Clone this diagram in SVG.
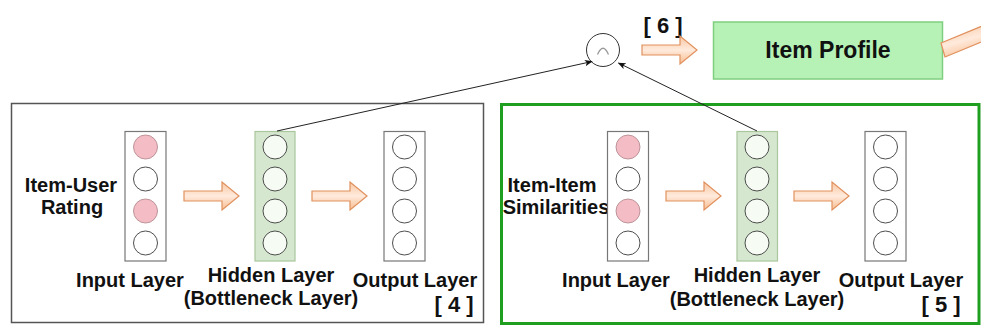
<svg xmlns="http://www.w3.org/2000/svg" width="981" height="327" viewBox="0 0 981 327">
  <style>
    .lbl { font-family: "Liberation Sans", Arial, sans-serif; font-weight: bold; font-size: 20px; fill: #111; text-anchor: middle; }
    .tag { font-size: 22px; }
    .frame { fill: #ffffff; stroke: #555; stroke-width: 1.5; }
    .frame-hi { fill: #ffffff; stroke: #1f9e1f; stroke-width: 3; }
    .layer { fill: #ffffff; stroke: #777; stroke-width: 1.2; }
    .layer-hid { fill: #d5e7cf; stroke: #a9c69c; stroke-width: 1.2; }
    .node { fill: #ffffff; stroke: #3a3a3a; stroke-width: 0.9; }
    .node-hid { fill: #f6fbf4; stroke: #3a3a3a; stroke-width: 0.9; }
    .node-on { fill: #f4bcc5; stroke: #b58c92; stroke-width: 0.9; }
    .flow { fill: url(#peach); stroke: #e0915e; stroke-width: 1.2; }
    .link { stroke: #222; stroke-width: 1; fill: none; marker-end: url(#tip); }
  </style>
  <defs>
    <linearGradient id="peach" x1="0" y1="0" x2="0" y2="1">
      <stop offset="0" stop-color="#f9c7a2"/>
      <stop offset="0.5" stop-color="#ffeadc"/>
      <stop offset="1" stop-color="#f8bd90"/>
    </linearGradient>
    <linearGradient id="peachBar" x1="0" y1="0" x2="0" y2="1" gradientTransform="rotate(-22 0.5 0.5)">
      <stop offset="0" stop-color="#f9c7a2"/>
      <stop offset="0.5" stop-color="#ffeadc"/>
      <stop offset="1" stop-color="#f8bd90"/>
    </linearGradient>
    <marker id="tip" viewBox="0 0 10 10" refX="9" refY="5" markerWidth="8" markerHeight="8" orient="auto" markerUnits="userSpaceOnUse">
      <path d="M0,1 L10,5 L0,9 L2.5,5 Z" fill="#111"/>
    </marker>
    <!-- block arrow, drawn from its left-middle point -->
    <path id="blockArrow" d="M0,-5 H38 V-14 L55,0 L38,14 V5 H0 Z"/>
    <!-- column of four neurons, drawn from the column's centre line -->
    <g id="colPlain">
      <circle class="node" cx="0" cy="147" r="12"/>
      <circle class="node" cx="0" cy="179" r="12"/>
      <circle class="node" cx="0" cy="211" r="12"/>
      <circle class="node" cx="0" cy="243" r="12"/>
    </g>
    <g id="colHidden">
      <circle class="node-hid" cx="0" cy="147" r="12"/>
      <circle class="node-hid" cx="0" cy="179" r="12"/>
      <circle class="node-hid" cx="0" cy="211" r="12"/>
      <circle class="node-hid" cx="0" cy="243" r="12"/>
    </g>
    <g id="colInput">
      <circle class="node-on" cx="0" cy="147" r="12"/>
      <circle class="node" cx="0" cy="179" r="12"/>
      <circle class="node-on" cx="0" cy="211" r="12"/>
      <circle class="node" cx="0" cy="243" r="12"/>
    </g>
  </defs>

  <rect width="981" height="327" fill="#ffffff"/>

  <!-- left autoencoder: item-user ratings -->
  <g id="ae-ratings">
    <rect class="frame" x="11.5" y="103.5" width="472" height="219"/>
    <text class="lbl" x="71" y="192">Item-User</text>
    <text class="lbl" x="72" y="214">Rating</text>
    <g id="ratings-input">
      <rect class="layer" x="125" y="131.5" width="41" height="129.5"/>
      <use href="#colInput" x="145.5"/>
    </g>
    <use href="#blockArrow" class="flow" x="184" y="196"/>
    <g id="ratings-hidden">
      <rect class="layer-hid" x="255" y="131.5" width="40" height="129.5"/>
      <use href="#colHidden" x="275"/>
    </g>
    <use href="#blockArrow" class="flow" x="312" y="196"/>
    <g id="ratings-output">
      <rect class="layer" x="384" y="131.5" width="41" height="129.5"/>
      <use href="#colPlain" x="404.5"/>
    </g>
    <text class="lbl" x="130" y="287">Input Layer</text>
    <text class="lbl" x="271" y="282">Hidden Layer</text>
    <text class="lbl" x="271" y="305">(Bottleneck Layer)</text>
    <text class="lbl" x="415" y="287">Output Layer</text>
    <text class="lbl tag" x="454" y="312">[ 4 ]</text>
  </g>

  <!-- right autoencoder: item-item similarities -->
  <g id="ae-similarities">
    <rect class="frame-hi" x="501.5" y="104.5" width="477.5" height="219"/>
    <text class="lbl" x="552" y="192">Item-Item</text>
    <text class="lbl" x="556" y="214">Similarities</text>
    <g id="sim-input">
      <rect class="layer" x="607.5" y="131.5" width="41" height="129.5"/>
      <use href="#colInput" x="628"/>
    </g>
    <use href="#blockArrow" class="flow" x="666" y="196"/>
    <g id="sim-hidden">
      <rect class="layer-hid" x="737" y="131.5" width="40.5" height="129.5"/>
      <use href="#colHidden" x="757"/>
    </g>
    <use href="#blockArrow" class="flow" x="794" y="196"/>
    <g id="sim-output">
      <rect class="layer" x="865" y="131.5" width="41" height="129.5"/>
      <use href="#colPlain" x="885.5"/>
    </g>
    <text class="lbl" x="616" y="287">Input Layer</text>
    <text class="lbl" x="757" y="282">Hidden Layer</text>
    <text class="lbl" x="757" y="306">(Bottleneck Layer)</text>
    <text class="lbl" x="901" y="287">Output Layer</text>
    <text class="lbl tag" x="941" y="312">[ 5 ]</text>
  </g>

  <!-- joining operator -->
  <g id="join">
    <circle cx="603" cy="50" r="16.5" fill="#ffffff" stroke="#333" stroke-width="1"/>
    <path d="M597.5,54.5 Q603,42 608.5,54.5" fill="none" stroke="#9a9a9a" stroke-width="1.3"/>
  </g>

  <g id="step6">
    <text class="lbl tag" x="663" y="33">[ 6 ]</text>
    <use href="#blockArrow" class="flow" x="642" y="50"/>
  </g>

  <g id="item-profile">
    <rect x="713.5" y="22" width="229" height="57" fill="#b6f2b6" stroke="#80cf80" stroke-width="1.5"/>
    <text class="lbl" x="828" y="58" style="font-size:23px">Item Profile</text>
  </g>

  <!-- outgoing block arrow, clipped at the canvas edge -->
  <polygon class="flow" points="941,43 990,22.8 990,38.5 945,57" style="fill:url(#peachBar)"/>

  <g id="connectors">
    <line class="link" x1="277" y1="131" x2="592" y2="61.5"/>
    <line class="link" x1="757" y1="131" x2="618.5" y2="63"/>
  </g>
</svg>
